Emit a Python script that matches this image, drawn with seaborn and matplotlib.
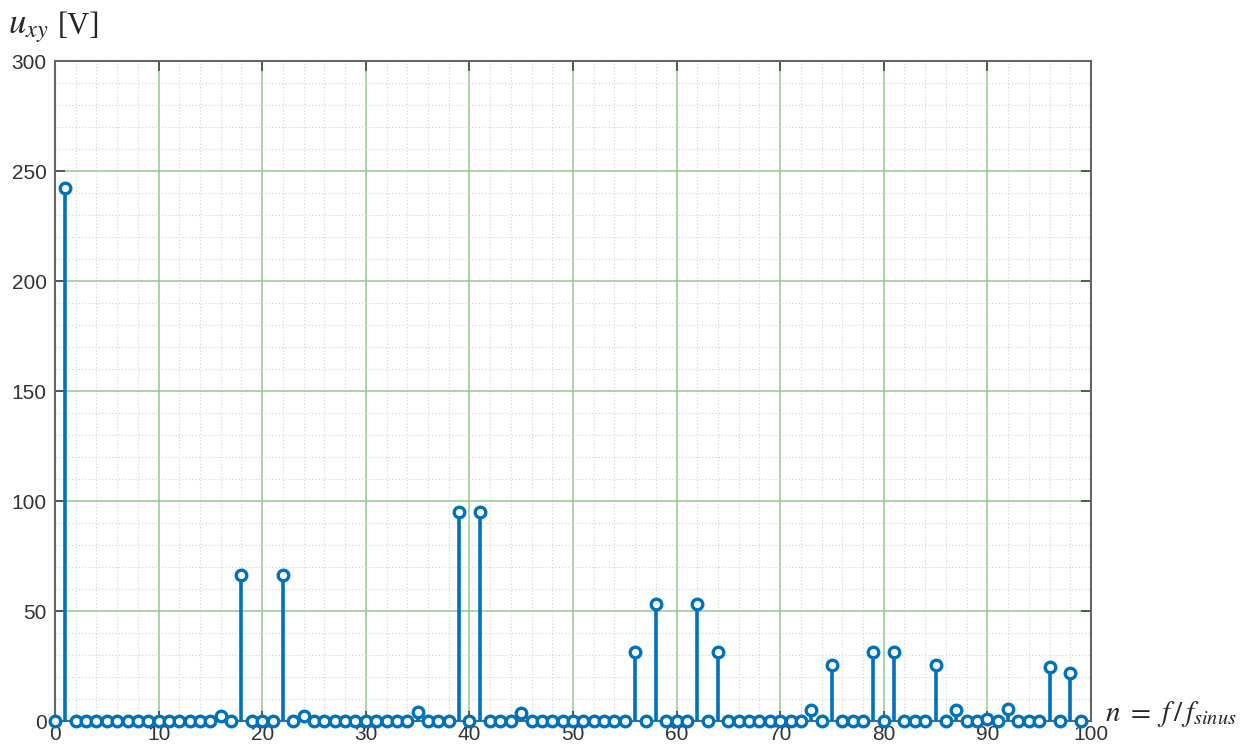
import numpy as np
import pandas as pd
import matplotlib
matplotlib.use("Agg")
import matplotlib.pyplot as plt
import seaborn as sns
from matplotlib.ticker import MultipleLocator

# Harmonic order n = f / f_sinus and amplitude u_xy [V]
harmonic_order = list(range(0, 100))
nonzero_harmonics = {
    1: 242.5, 16: 2.5, 18: 66.5, 22: 66.5, 24: 2.5, 35: 4.0,
    39: 95.0, 41: 95.0, 45: 3.5, 56: 31.5, 58: 53.0, 62: 53.0,
    64: 31.5, 73: 5.0, 75: 25.5, 79: 31.5, 81: 31.5, 85: 25.5,
    87: 5.0, 90: 1.0, 92: 5.5, 96: 24.5, 98: 22.0,
}
amplitude = [nonzero_harmonics.get(n, 0.0) for n in harmonic_order]

x_ticks = list(range(0, 101, 10))
y_ticks = list(range(0, 301, 50))

df = pd.DataFrame({"n": harmonic_order, "u": amplitude})

sns.set_theme(style="white")
plt.rcParams["font.family"] = ["Liberation Sans", "DejaVu Sans"]
plt.rcParams["mathtext.fontset"] = "stix"

blue = "#0072BD"
fig = plt.figure(figsize=(12.56, 7.47), dpi=100)
ax = fig.add_axes([0.0438, 0.0348, 0.8248, 0.8835])

# stems
ax.vlines(df["n"], 0, df["u"], color=blue, linewidth=2.6, zorder=3)
# stem heads
sns.scatterplot(data=df, x="n", y="u", ax=ax, marker="o", s=58,
                facecolor="white", edgecolor=blue, linewidth=2.4,
                zorder=4, clip_on=False, legend=False)

ax.set_xlim(0, 100)
ax.set_ylim(0, 300)
ax.set_xticks(x_ticks)
ax.set_yticks(y_ticks)
ax.xaxis.set_minor_locator(MultipleLocator(2))
ax.yaxis.set_minor_locator(MultipleLocator(10))

ax.grid(which="major", color="#8fcc8a", linewidth=1.1, zorder=0)
ax.grid(which="minor", color="#c9d9c9", linestyle=(0, (1, 2)), linewidth=0.8, zorder=0)
ax.set_axisbelow(True)

ax.tick_params(which="major", direction="in", length=7, width=1.2,
               colors="#444444", labelsize=15, labelcolor="#333333",
               top=True, right=True, bottom=True, left=True)
ax.tick_params(axis="x", which="major", pad=3)
ax.tick_params(axis="y", which="major", pad=6)
ax.tick_params(which="minor", length=0)

for side in ax.spines.values():
    side.set_color("#666666")
    side.set_linewidth(1.5)
    side.set_visible(True)

ax.set_xlabel("")
ax.set_ylabel("")

fig.text(0.006, 0.962, r"$u_{xy}$", fontsize=25, ha="left", va="center")
fig.text(0.046, 0.964, "[V]", fontsize=22, family="Liberation Serif", ha="left", va="center")
fig.text(0.880, 0.044, r"$n\ =\ f\,/\,f_{sinus}$", fontsize=21, ha="left", va="center")

fig.savefig("out.png", dpi=100)
